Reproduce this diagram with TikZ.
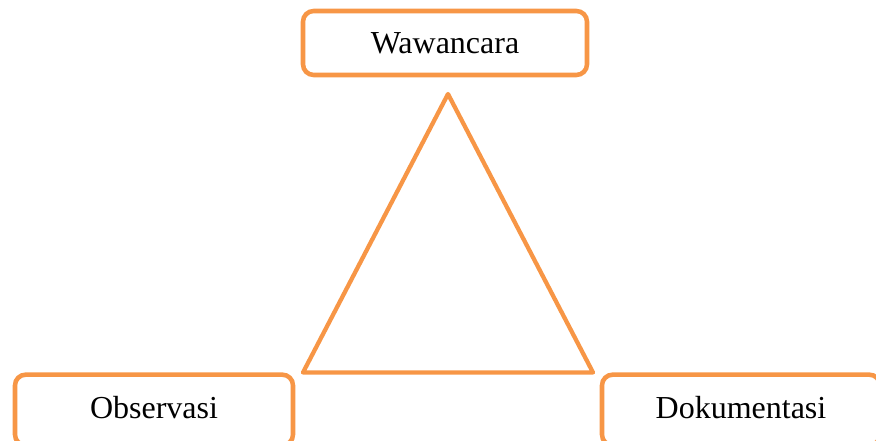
\documentclass[tikz,border=0pt]{standalone}
\usepackage{fontspec}
\setmainfont{Liberation Serif}
\definecolor{accent}{HTML}{F79646}
\begin{document}
\begin{tikzpicture}[x=0.75pt,y=-0.75pt,
  methodbox/.style={draw=accent,line width=3.4pt,rounded corners=8pt,fill=white,
    inner sep=0pt,font=\fontsize{24}{28}\selectfont,text=black},
  triline/.style={draw=accent,line width=3.2pt,line join=round}]
\useasboundingbox (0,0) rectangle (876,441);
\coordinate (apex) at (448,94);
\coordinate (bl) at (303,372.5);
\coordinate (br) at (593,372.5);
\draw[triline] (apex) -- (bl) -- (br) -- cycle;
\node[methodbox,minimum width=213pt,minimum height=48pt] (waw) at (445,43) {Wawancara};
\node[methodbox,minimum width=208.5pt,minimum height=53pt] (obs) at (154,410) {};
\node at (154,408) [font=\fontsize{24}{28}\selectfont] (obst) {Observasi};
\node[methodbox,minimum width=208.5pt,minimum height=53pt] (dok) at (741,410) {};
\node at (741,408) [font=\fontsize{24}{28}\selectfont] (dokt) {Dokumentasi};
\end{tikzpicture}
\end{document}
